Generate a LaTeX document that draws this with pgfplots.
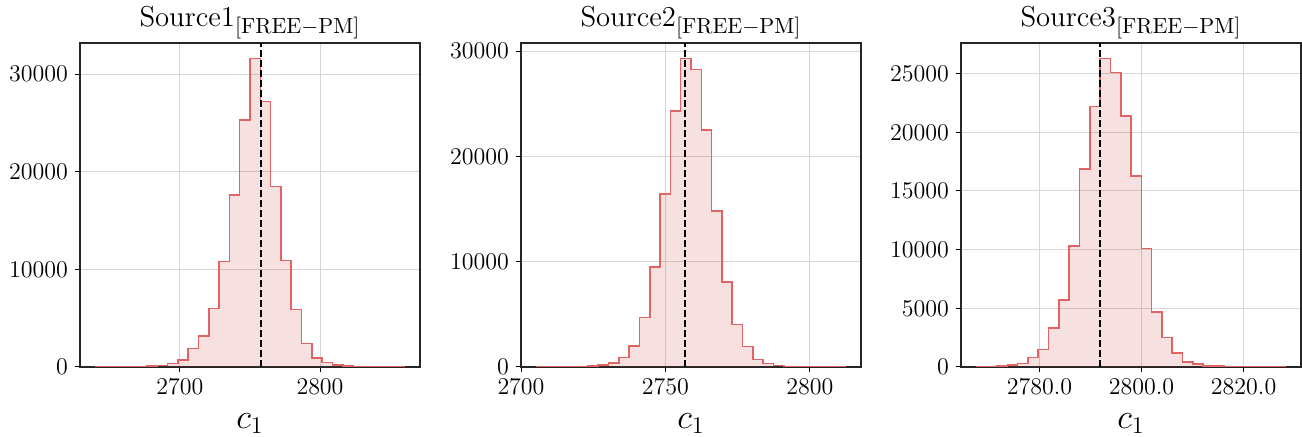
\documentclass[border=0pt]{standalone}
\usepackage{pgfplots}
\usepackage{pgfplotstable}
\pgfplotsset{compat=1.18}
\DeclareMathSizes{14.4}{14.4}{10.95}{8}
\definecolor{histedge}{RGB}{224,100,100}
\definecolor{histfill}{RGB}{200,60,65}

% Source1: bin left edges and counts (last row closes the final bin)
\pgfplotstableread{
x y
2639.60 2
2646.96 5
2654.32 10
2661.68 20
2669.04 40
2676.40 80
2683.76 170
2691.12 375
2698.48 700
2705.84 1900
2713.20 3200
2720.56 6000
2727.92 10800
2735.28 17600
2742.64 25300
2750.00 31600
2757.36 27200
2764.72 18500
2772.08 10900
2779.44 5900
2786.80 2400
2794.16 950
2801.52 480
2808.88 205
2816.24 80
2823.60 40
2830.96 20
2838.32 10
2845.68 5
2853.04 2
2860.40 2
}\histA

% Source2
\pgfplotstableread{
x y
2705.35 1
2708.92 3
2712.48 6
2716.05 15
2719.62 40
2723.18 80
2726.75 190
2730.32 380
2733.88 920
2737.45 2000
2741.02 4700
2744.58 9500
2748.15 16400
2751.72 24300
2755.28 29300
2758.85 28250
2762.42 22500
2765.98 14800
2769.55 8050
2773.12 4050
2776.68 1950
2780.25 700
2783.82 320
2787.38 130
2790.95 60
2794.52 30
2798.08 12
2801.65 5
2805.22 2
2808.78 1
2812.35 1
}\histB

% Source3
\pgfplotstableread{
x y
2767.63 10
2769.65 30
2771.67 60
2773.69 170
2775.71 300
2777.73 800
2779.75 1500
2781.77 3300
2783.79 5700
2785.81 10300
2787.83 16850
2789.85 22200
2791.87 26300
2793.89 25100
2795.91 21400
2797.93 16300
2799.95 10100
2801.97 4700
2803.99 2500
2806.01 1200
2808.02 450
2810.04 250
2812.06 110
2814.08 60
2816.10 30
2818.12 15
2820.14 8
2822.16 4
2824.18 2
2826.20 1
2828.22 1
}\histC

\pgfplotsset{
  hstyle/.style={
    scale only axis, width=170pt, height=162pt,
    anchor=south west,
    grid=major, grid style={black!16, line width=0.5pt},
    tick align=outside, major tick length=2.5pt,
    tick style={black, line width=0.5pt},
    xtick pos=left, ytick pos=left,
    axis line style={black!85, line width=0.6pt},
    scaled ticks=false,
    ymin=0,
    tick label style={font=\fontsize{12}{14}\selectfont},
    /pgf/number format/fixed,
    /pgf/number format/1000 sep={},
    xlabel={$c_1$},
    xlabel style={font=\fontsize{17.28}{20}\selectfont, yshift=-2.5pt},
    title style={font=\fontsize{14.4}{17}\selectfont, anchor=base, at={(0.5,1)}, yshift=2pt},
  },
  fillst/.style={const plot mark left, fill=histfill, fill opacity=0.16, draw=none},
  edgest/.style={const plot mark left, draw=histedge, line width=0.8pt, mark=none},
  vline/.style={black, line width=1pt, dash pattern=on 3.5pt off 1.5pt},
}

\begin{document}
\begin{tikzpicture}
\useasboundingbox (0,0) rectangle (651pt,218.5pt);

\begin{axis}[hstyle, at={(40pt,35pt)},
  xmin=2628.6, xmax=2871.4, ymax=33180,
  xtick={2700,2800}, ytick={0,10000,20000,30000},
  title={$\mathrm{Source1}_{[\mathrm{FREE-PM}]}$}]
  \addplot[fillst] table {\histA} \closedcycle;
  \addplot[edgest] table {\histA};
  \addplot[vline] coordinates {(2758,0) (2758,33180)};
\end{axis}

\begin{axis}[hstyle, at={(260.5pt,35pt)},
  xmin=2700, xmax=2817.7, ymax=30765,
  xtick={2700,2750,2800}, ytick={0,10000,20000,30000},
  title={$\mathrm{Source2}_{[\mathrm{FREE-PM}]}$}]
  \addplot[fillst] table {\histB} \closedcycle;
  \addplot[edgest] table {\histB};
  \addplot[vline] coordinates {(2756.9,0) (2756.9,30765)};
\end{axis}

\begin{axis}[hstyle, at={(480.5pt,35pt)},
  xmin=2764.6, xmax=2831.25, ymax=27615,
  xtick={2780,2800,2820}, ytick={0,5000,10000,15000,20000,25000},
  xticklabel style={/pgf/number format/fixed zerofill, /pgf/number format/precision=1},
  title={$\mathrm{Source3}_{[\mathrm{FREE-PM}]}$}]
  \addplot[fillst] table {\histC} \closedcycle;
  \addplot[edgest] table {\histC};
  \addplot[vline] coordinates {(2791.9,0) (2791.9,27615)};
\end{axis}
\end{tikzpicture}
\end{document}
